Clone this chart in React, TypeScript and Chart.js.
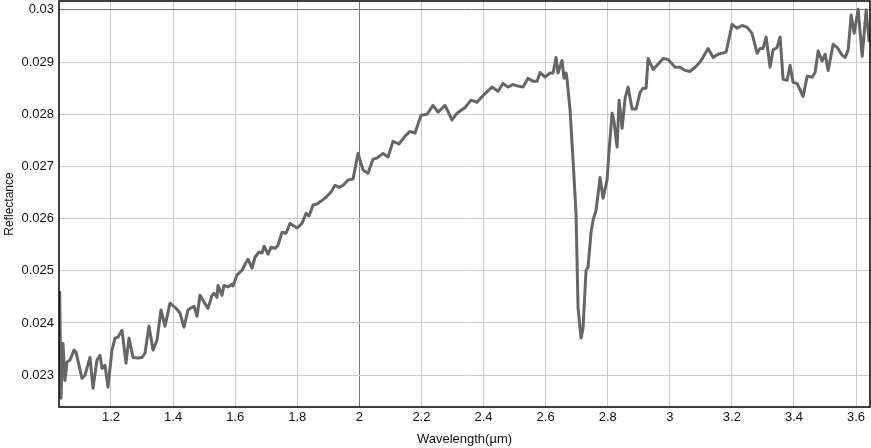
import React, { useEffect, useRef } from "react";
import { Chart, registerables } from "chart.js";

Chart.register(...registerables);

const wavelength: number[] = [
  1.0347, 1.0389, 1.0453, 1.0518, 1.0582, 1.0679, 1.0808, 1.0872, 1.1066, 1.1163,
  1.1323, 1.142, 1.1549, 1.1646, 1.171, 1.1807, 1.1903, 1.2032, 1.2129, 1.2226,
  1.2354, 1.2483, 1.258, 1.2709, 1.287, 1.2999, 1.3095, 1.3224, 1.3353, 1.3482,
  1.3611, 1.374, 1.3901, 1.4062, 1.4223, 1.4352, 1.4481, 1.461, 1.4674, 1.4771,
  1.4867, 1.4996, 1.5125, 1.5254, 1.5318, 1.5415, 1.5447, 1.5576, 1.564, 1.5769,
  1.5898, 1.593, 1.6059, 1.622, 1.6349, 1.6414, 1.6543, 1.664, 1.6769, 1.6865,
  1.693, 1.7058, 1.7155, 1.7284, 1.7381, 1.751, 1.7639, 1.7767, 1.7864, 1.7993,
  1.8154, 1.8283, 1.838, 1.8509, 1.8638, 1.8799, 1.8928, 1.9089, 1.9218, 1.9346,
  1.9475, 1.9636, 1.9797, 1.9958, 2.0119, 2.028, 2.0441, 2.057, 2.0763, 2.0924,
  2.1085, 2.1279, 2.1472, 2.1633, 2.1794, 2.1988, 2.2181, 2.2374, 2.2535, 2.2761,
  2.2986, 2.3147, 2.3405, 2.3598, 2.3791, 2.3985, 2.4275, 2.4468, 2.4629, 2.479,
  2.4951, 2.5112, 2.5273, 2.5434, 2.5595, 2.5724, 2.5821, 2.5982, 2.6143, 2.624,
  2.6337, 2.6401, 2.653, 2.6594, 2.6659, 2.6691, 2.6788, 2.6884, 2.6981, 2.7045,
  2.7142, 2.7206, 2.7303, 2.7368, 2.7464, 2.7529, 2.7626, 2.7755, 2.7851, 2.798,
  2.8045, 2.8142, 2.8206, 2.8303, 2.8367, 2.8464, 2.8561, 2.8657, 2.8786, 2.8915,
  2.9044, 2.9141, 2.9238, 2.9302, 2.9463, 2.9624, 2.9785, 2.9946, 3.017, 3.0331,
  3.0493, 3.0654, 3.0815, 3.0976, 3.1072, 3.1234, 3.1395, 3.1556, 3.1685, 3.1814,
  3.2007, 3.2168, 3.2329, 3.249, 3.2651, 3.2812, 3.2909, 3.3006, 3.3103, 3.3231,
  3.3328, 3.3457, 3.3554, 3.3651, 3.378, 3.3876, 3.3973, 3.4102, 3.4296, 3.4425,
  3.4586, 3.4682, 3.4779, 3.4908, 3.5005, 3.5101, 3.5263, 3.5392, 3.5553, 3.5649,
  3.5746, 3.5843, 3.594, 3.6069, 3.6198, 3.6327, 3.6423,
];

const reflectance: number[] = [
  0.02461, 0.02256, 0.02361, 0.0229, 0.02325, 0.02329, 0.02348, 0.02344, 0.02294, 0.023,
  0.02334, 0.02275, 0.02329, 0.02338, 0.02313, 0.02319, 0.02277, 0.02348, 0.02371, 0.02373,
  0.02386, 0.02323, 0.02371, 0.02334, 0.02333, 0.02334, 0.02342, 0.02394, 0.02348, 0.02367,
  0.02425, 0.02394, 0.02438, 0.0243, 0.02419, 0.02392, 0.02425, 0.0243, 0.02432, 0.02413,
  0.02453, 0.0244, 0.02428, 0.02453, 0.02457, 0.02449, 0.02472, 0.02453, 0.02472, 0.02469,
  0.02474, 0.02471, 0.02492, 0.02501, 0.02516, 0.02522, 0.02505, 0.02526, 0.02536, 0.02534,
  0.02547, 0.02532, 0.02545, 0.02543, 0.02549, 0.02574, 0.02572, 0.02591, 0.02587, 0.02582,
  0.02591, 0.0261, 0.02605, 0.02626, 0.02628, 0.02635, 0.02641, 0.02651, 0.02664, 0.0266,
  0.02664, 0.02674, 0.02676, 0.02725, 0.02693, 0.02687, 0.02714, 0.02716, 0.02725, 0.02718,
  0.02748, 0.02743, 0.02758, 0.02767, 0.02764, 0.02798, 0.028, 0.02817, 0.02804, 0.02817,
  0.02789, 0.02802, 0.02813, 0.02827, 0.02823, 0.02836, 0.02852, 0.02844, 0.02859, 0.02852,
  0.02857, 0.02854, 0.02852, 0.02869, 0.02863, 0.02863, 0.0288, 0.02871, 0.02879, 0.02879,
  0.02909, 0.02879, 0.02903, 0.02869, 0.02879, 0.02867, 0.02808, 0.02712, 0.0261, 0.0243,
  0.02371, 0.0239, 0.02501, 0.02507, 0.02574, 0.02597, 0.02616, 0.02679, 0.02639, 0.02674,
  0.02731, 0.02802, 0.02785, 0.02737, 0.02827, 0.02773, 0.02831, 0.02852, 0.0281, 0.0281,
  0.02842, 0.0285, 0.0285, 0.02907, 0.02886, 0.02896, 0.02907, 0.02905, 0.0289, 0.0289,
  0.02884, 0.02882, 0.0289, 0.029, 0.02909, 0.02926, 0.02909, 0.02915, 0.02917, 0.02919,
  0.02972, 0.02965, 0.0297, 0.02967, 0.02955, 0.02917, 0.02926, 0.02926, 0.02948, 0.0289,
  0.02923, 0.02928, 0.02948, 0.02867, 0.02865, 0.02894, 0.02861, 0.02859, 0.02834, 0.02873,
  0.02871, 0.0288, 0.02921, 0.02902, 0.02915, 0.02884, 0.02934, 0.02928, 0.02913, 0.02909,
  0.02923, 0.0299, 0.02955, 0.03001, 0.02911, 0.03, 0.02938,
];

const xTicks: number[] = [1.2, 1.4, 1.6, 1.8, 2.0, 2.2, 2.4, 2.6, 2.8, 3.0, 3.2, 3.4, 3.6];
const yTicks: number[] = [0.023, 0.024, 0.025, 0.026, 0.027, 0.028, 0.029, 0.03];

const FONT = "'Liberation Sans', Arial, Helvetica, sans-serif";

export default function App() {
  const ref = useRef<HTMLCanvasElement | null>(null);

  useEffect(() => {
    if (!ref.current) return;
    const borderPlugin = {
      id: "frame",
      afterDraw(chart: any) {
        const { ctx, chartArea } = chart;
        ctx.save();
        ctx.strokeStyle = "#000";
        ctx.lineWidth = 1.5;
        ctx.strokeRect(chartArea.left, chartArea.top, chartArea.right - chartArea.left, chartArea.bottom - chartArea.top);
        ctx.restore();
      },
    };
    const chart = new Chart(ref.current, {
      type: "line",
      data: {
        datasets: [
          {
            data: wavelength.map((w, i) => ({ x: w, y: reflectance[i] })),
            borderColor: "#666666",
            borderWidth: 3,
            pointRadius: 0,
            tension: 0,
            borderJoinStyle: "round",
            fill: false,
          },
        ],
      },
      options: {
        animation: false,
        responsive: false,
        maintainAspectRatio: false,
        layout: { padding: { top: 1, right: 1, left: 0, bottom: 0 } },
        plugins: { legend: { display: false }, tooltip: { enabled: false } },
        scales: {
          x: {
            type: "linear",
            min: 1.0325,
            max: 3.645,
            afterBuildTicks: (s: any) => {
              s.ticks = xTicks.map((v) => ({ value: v }));
            },
            afterFit: (s: any) => {
              s.height = 41;
              s.paddingLeft = 0;
              s.paddingRight = 0;
            },
            grid: {
              drawTicks: false,
              color: (c: any) => (Math.abs(c.tick.value - 2) < 1e-9 ? "#777777" : "#cccccc"),
              lineWidth: 1,
            },
            border: { display: false },
            ticks: {
              padding: 3,
              color: "#111",
              font: { family: FONT, size: 13 },
              maxRotation: 0,
              autoSkip: false,
              callback: (v: any) => String(Number(Number(v).toFixed(1))),
            },
            title: {
              display: true,
              text: "Wavelength(µm)",
              color: "#111",
              font: { family: FONT, size: 13 },
              padding: { top: 0, bottom: 1 },
            },
          },
          y: {
            type: "linear",
            min: 0.02239,
            max: 0.03017,
            afterBuildTicks: (s: any) => {
              s.ticks = yTicks.map((v) => ({ value: v }));
            },
            afterFit: (s: any) => {
              s.width = 59;
              s.paddingTop = 0;
              s.paddingBottom = 0;
            },
            grid: {
              drawTicks: false,
              color: (c: any) => (Math.abs(c.tick.value - 0.03) < 1e-9 ? "#777777" : "#cccccc"),
              lineWidth: 1,
            },
            border: { display: false },
            ticks: {
              padding: 5,
              color: "#111",
              font: { family: FONT, size: 13 },
              autoSkip: false,
              callback: (v: any) => String(Number(Number(v).toFixed(3))),
            },
            title: {
              display: true,
              text: "Reflectance",
              color: "#111",
              font: { family: FONT, size: 12 },
              padding: { top: 2, bottom: 4 },
            },
          },
        },
      },
      plugins: [borderPlugin],
    });
    return () => chart.destroy();
  }, []);

  return (
    <div style={{ position: "fixed", left: 0, top: 0, width: 871, height: 448, background: "#fff" }}>
      <canvas ref={ref} width={871} height={448} style={{ display: "block", width: 871, height: 448 }} />
    </div>
  );
}
